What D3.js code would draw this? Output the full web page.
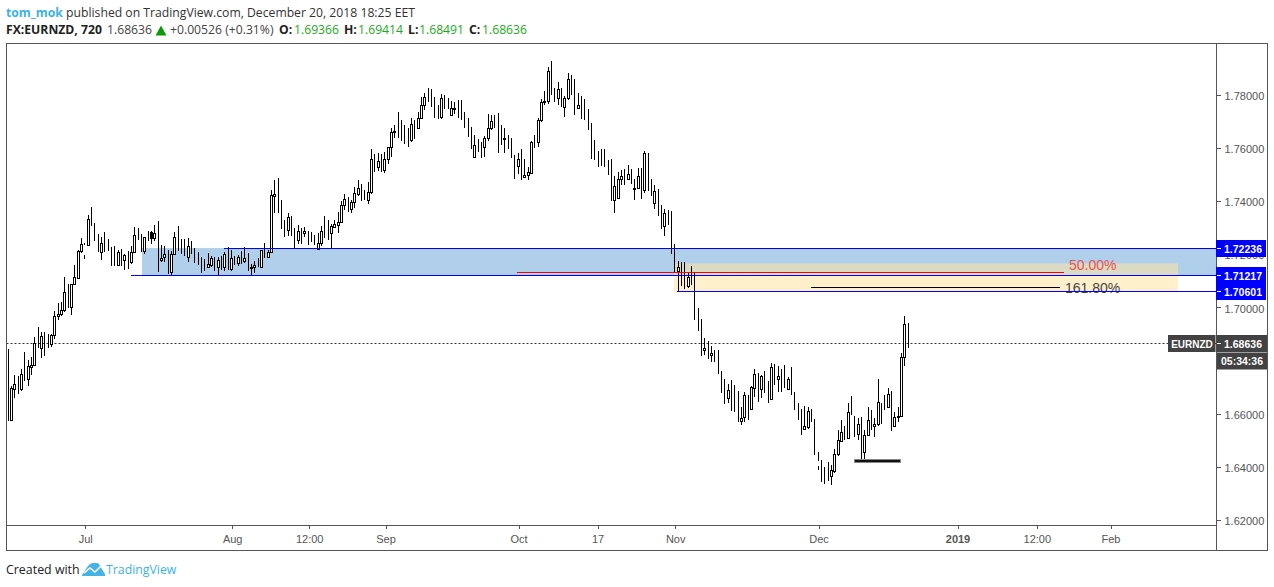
<!DOCTYPE html>
<html><head><meta charset="utf-8">
<script src="https://d3js.org/d3.v7.min.js"></script>
<style>
html,body{margin:0;padding:0;background:#fff;overflow:hidden}
text{font-family:"Liberation Sans",Arial,sans-serif}
.hd{font-family:"Open Sans",sans-serif}
</style></head><body><svg id="c" width="1274" height="587"></svg>
<script>
const highs=[1.6844,1.6704,1.6744,1.6742,1.6767,1.6831,1.6802,1.6815,1.6888,1.6925,
1.6906,1.6906,1.6900,1.6899,1.6987,1.7017,1.7021,1.7113,1.7088,1.7088,
1.7160,1.7215,1.7262,1.7241,1.7347,1.7377,1.7318,1.7277,1.7267,1.7284,
1.7257,1.7229,1.7231,1.7216,1.7220,1.7201,1.7213,1.7233,1.7303,1.7299,
1.7277,1.7267,1.7289,1.7288,1.7309,1.7326,1.7235,1.7233,1.7216,1.7213,
1.7284,1.7307,1.7258,1.7258,1.7262,1.7250,1.7225,1.7209,1.7190,1.7184,
1.7204,1.7194,1.7191,1.7191,1.7194,1.7209,1.7229,1.7216,1.7194,1.7198,
1.7214,1.7228,1.7204,1.7164,1.7175,1.7186,1.7216,1.7241,1.7216,1.7442,
1.7480,1.7487,1.7405,1.7329,1.7356,1.7343,1.7298,1.7310,1.7300,1.7303,
1.7289,1.7284,1.7273,1.7280,1.7307,1.7345,1.7330,1.7315,1.7330,1.7358,
1.7400,1.7428,1.7415,1.7405,1.7454,1.7480,1.7465,1.7443,1.7472,1.7597,
1.7578,1.7581,1.7578,1.7586,1.7605,1.7676,1.7688,1.7737,1.7704,1.7688,
1.7676,1.7714,1.7706,1.7737,1.7792,1.7809,1.7827,1.7822,1.7794,1.7763,
1.7804,1.7799,1.7787,1.7777,1.7772,1.7782,1.7782,1.7735,1.7714,1.7680,
1.7650,1.7634,1.7622,1.7645,1.7728,1.7725,1.7724,1.7733,1.7687,1.7675,
1.7650,1.7637,1.7574,1.7583,1.7597,1.7559,1.7529,1.7625,1.7650,1.7713,
1.7785,1.7815,1.7906,1.7928,1.7828,1.7848,1.7825,1.7795,1.7883,1.7876,
1.7861,1.7808,1.7797,1.7785,1.7748,1.7695,1.7631,1.7590,1.7597,1.7597,
1.7554,1.7558,1.7495,1.7509,1.7518,1.7522,1.7536,1.7522,1.7483,1.7524,
1.7524,1.7588,1.7580,1.7482,1.7461,1.7445,1.7384,1.7369,1.7367,1.7363,
1.7239,1.7174,1.7171,1.7171,1.7133,1.7156,1.7128,1.6997,1.6957,1.6885,
1.6873,1.6855,1.6838,1.6838,1.6761,1.6731,1.6712,1.6725,1.6708,1.6686,
1.6627,1.6682,1.6671,1.6706,1.6767,1.6752,1.6746,1.6761,1.6723,1.6791,
1.6787,1.6780,1.6769,1.6784,1.6737,1.6776,1.6682,1.6639,1.6618,1.6628,
1.6627,1.6619,1.6580,1.6455,1.6426,1.6401,1.6417,1.6407,1.6467,1.6539,
1.6575,1.6552,1.6642,1.6667,1.6592,1.6583,1.6587,1.6539,1.6624,1.6614,
1.6583,1.6731,1.6639,1.6671,1.6695,1.6686,1.6608,1.6627,1.6828,1.6968,1.69414];
const lows=[1.6574,1.6574,1.6660,1.6674,1.6687,1.6724,1.6706,1.6747,1.6781,1.6849,
1.6811,1.6817,1.6849,1.6852,1.6881,1.6953,1.6969,1.6984,1.6999,1.6972,
1.7085,1.7108,1.7206,1.7184,1.7233,1.7307,1.7252,1.7209,1.7179,1.7209,
1.7214,1.7156,1.7157,1.7160,1.7157,1.7141,1.7146,1.7164,1.7208,1.7254,
1.7210,1.7203,1.7250,1.7239,1.7251,1.7134,1.7172,1.7171,1.7126,1.7121,
1.7198,1.7214,1.7200,1.7193,1.7171,1.7201,1.7166,1.7160,1.7131,1.7139,
1.7152,1.7154,1.7137,1.7121,1.7141,1.7139,1.7141,1.7139,1.7160,1.7156,
1.7164,1.7169,1.7139,1.7121,1.7131,1.7154,1.7154,1.7187,1.7186,1.7204,
1.7357,1.7357,1.7297,1.7264,1.7269,1.7270,1.7223,1.7239,1.7239,1.7265,
1.7234,1.7246,1.7234,1.7219,1.7233,1.7262,1.7255,1.7223,1.7302,1.7282,
1.7317,1.7368,1.7360,1.7357,1.7375,1.7418,1.7400,1.7403,1.7388,1.7427,
1.7511,1.7512,1.7511,1.7508,1.7541,1.7568,1.7637,1.7639,1.7626,1.7616,
1.7606,1.7624,1.7636,1.7671,1.7713,1.7742,1.7772,1.7754,1.7715,1.7709,
1.7709,1.7749,1.7747,1.7723,1.7728,1.7713,1.7706,1.7675,1.7640,1.7596,
1.7562,1.7585,1.7564,1.7568,1.7628,1.7669,1.7675,1.7583,1.7612,1.7580,
1.7597,1.7564,1.7484,1.7504,1.7480,1.7489,1.7480,1.7508,1.7600,1.7605,
1.7697,1.7763,1.7767,1.7800,1.7775,1.7763,1.7756,1.7718,1.7780,1.7800,
1.7725,1.7746,1.7708,1.7705,1.7669,1.7559,1.7556,1.7529,1.7534,1.7529,
1.7497,1.7399,1.7357,1.7414,1.7462,1.7462,1.7482,1.7464,1.7403,1.7446,
1.7408,1.7432,1.7440,1.7420,1.7371,1.7344,1.7295,1.7269,1.7310,1.7201,
1.7128,1.7061,1.7081,1.7071,1.7073,1.7084,1.6951,1.6912,1.6818,1.6821,
1.6806,1.6795,1.6795,1.6750,1.6678,1.6637,1.6639,1.6611,1.6607,1.6569,
1.6557,1.6567,1.6576,1.6612,1.6664,1.6644,1.6659,1.6679,1.6639,1.6652,
1.6707,1.6682,1.6682,1.6697,1.6692,1.6669,1.6612,1.6576,1.6518,1.6539,
1.6542,1.6569,1.6445,1.6388,1.6344,1.6336,1.6348,1.6332,1.6376,1.6439,
1.6494,1.6501,1.6505,1.6595,1.6514,1.6501,1.6431,1.6420,1.6516,1.6539,
1.6514,1.6552,1.6560,1.6614,1.6621,1.6533,1.6551,1.6570,1.6589,1.6781,1.68491];
// Bars whose body is readable (1-based bar number), with open and close
const bodyBars=[2,3,5,7,8,9,11,14,15,16,17,18,20,21,22,23,24,25,29,34,36,38,39,42,44,45,47,48,50,51,55,61,62,64,66,68,70,72,74,75,77,79,80,81,85,88,90,94,95,98,99,100,101,102,104,105,106,109,110,112,114,115,116,117,122,124,125,126,131,134,135,138,141,144,145,146,150,154,156,157,158,160,161,162,163,166,168,169,172,179,183,184,185,187,189,190,192,195,198,199,202,205,210,212,217,221,222,224,225,227,230,232,235,240,241,244,248,249,250,251,253,256,258,259,261,262,265,267,268,269,270];
const bodyOpens=[1.6576,1.6694,1.6694,1.6729,1.6777,1.6782,1.6849,1.6862,1.6895,1.6967,1.6977,1.6989,1.7000,1.7087,1.7112,1.7211,1.7198,1.7234,1.7210,1.7161,1.7180,1.7172,1.7208,1.7211,1.7285,1.7263,1.7177,1.7189,1.7132,1.7200,1.7189,1.7154,1.7161,1.7154,1.7151,1.7144,1.7169,1.7176,1.7147,1.7151,1.7154,1.7189,1.7208,1.7421,1.7290,1.7253,1.7279,1.7221,1.7241,1.7281,1.7304,1.7312,1.7320,1.7384,1.7369,1.7396,1.7429,1.7404,1.7434,1.7527,1.7516,1.7558,1.7603,1.7660,1.7629,1.7674,1.7713,1.7762,1.7719,1.7723,1.7749,1.7712,1.7568,1.7603,1.7637,1.7675,1.7634,1.7531,1.7493,1.7497,1.7508,1.7622,1.7705,1.7773,1.7777,1.7790,1.7753,1.7788,1.7750,1.7558,1.7403,1.7414,1.7482,1.7485,1.7445,1.7448,1.7442,1.7394,1.7308,1.7354,1.7138,1.7079,1.6838,1.6820,1.6659,1.6574,1.6587,1.6617,1.6697,1.6692,1.6657,1.6730,1.6694,1.6544,1.6551,1.6403,1.6367,1.6386,1.6447,1.6498,1.6507,1.6525,1.6457,1.6519,1.6552,1.6560,1.6624,1.6555,1.6587,1.6590,1.6813];
const bodyCloses=[1.6696,1.6711,1.6748,1.6780,1.6782,1.6865,1.6891,1.6895,1.6967,1.6977,1.6989,1.7057,1.7087,1.7113,1.7213,1.7238,1.7236,1.7332,1.7243,1.7208,1.7196,1.7208,1.7272,1.7264,1.7263,1.7279,1.7187,1.7200,1.7201,1.7264,1.7230,1.7164,1.7185,1.7179,1.7201,1.7185,1.7189,1.7185,1.7151,1.7159,1.7215,1.7208,1.7422,1.7426,1.7339,1.7287,1.7287,1.7241,1.7288,1.7306,1.7313,1.7321,1.7385,1.7408,1.7396,1.7430,1.7449,1.7434,1.7558,1.7551,1.7558,1.7603,1.7660,1.7664,1.7690,1.7713,1.7762,1.7792,1.7789,1.7750,1.7750,1.7713,1.7611,1.7637,1.7675,1.7701,1.7637,1.7558,1.7498,1.7509,1.7622,1.7705,1.7773,1.7778,1.7890,1.7822,1.7788,1.7859,1.7761,1.7559,1.7457,1.7483,1.7494,1.7502,1.7449,1.7494,1.7580,1.7437,1.7354,1.7357,1.7151,1.7115,1.6846,1.6828,1.6688,1.6585,1.6670,1.6699,1.6748,1.6742,1.6775,1.6740,1.6730,1.6553,1.6609,1.6420,1.6387,1.6447,1.6500,1.6530,1.6607,1.6560,1.6519,1.6575,1.6560,1.6643,1.6673,1.6587,1.6590,1.6813,1.6937];
const filledBars=[44];
const gapBars=[24,244];
const priceTicks=[1.62,1.64,1.66,1.68,1.70,1.72,1.74,1.76,1.78];
const timeLabels=["Jul","Aug","12:00","Sep","Oct","17","Nov","Dec","2019","12:00","Feb"];
const timeBars=[23,67.1,90.2,113.1,153,176.7,200,243,284.7,308.5,330.6];
const boldTimeLabels=["2019"];
const supplyTop=1.72236, supplyBottom=1.71217, fibLow=1.70601, lastPrice=1.68636;
const fib50=1.7133, fib161=1.7074, fibZoneTop=1.7166, swingLow=1.6422;
const priceLabels=[1.72236,1.71217,1.70601];

const svg=d3.select("#c");
const ink="#555";
const L=6.5,R=1216.5,T=43.5,B=525.5,RR=1267.5,BB=550.5;
const y=d3.scaleLinear().domain([1.62,1.78]).range([519.9,95]);
const x=d3.scaleLinear().domain([0,3]).range([8,18]);
const px=i=>Math.floor(x(i))+0.5;
const py=v=>Math.round(y(v))+0.5;
const ly=v=>Math.floor(y(v))+0.5;

// zones
svg.append("rect").attr("x",142).attr("width",R-142).attr("y",y(supplyTop)).attr("height",y(supplyBottom)-y(supplyTop)).attr("fill","#b0cfeb");
svg.append("rect").attr("x",674).attr("width",504).attr("y",y(fibZoneTop)).attr("height",y(fibLow)-y(fibZoneTop)).attr("fill","rgba(255,227,159,.54)");

// last price line
svg.append("line").attr("x1",L).attr("x2",R).attr("y1",ly(lastPrice)).attr("y2",ly(lastPrice)).attr("stroke","#333").attr("stroke-dasharray","2,2");

// candles
const bars=highs.map((h,i)=>({i,h,l:lows[i]}));
bodyBars.forEach((n,k)=>{bars[n-1].o=bodyOpens[k];bars[n-1].c=bodyCloses[k];});
const g=svg.append("g").attr("shape-rendering","crispEdges");
g.selectAll(".w").data(bars).join("line").attr("class","w")
 .attr("x1",d=>px(d.i)).attr("x2",d=>px(d.i)).attr("y1",d=>Math.round(y(d.h))).attr("y2",d=>Math.round(y(d.l)))
 .attr("stroke","#000");
const bodied=bars.filter(d=>d.o!==undefined);
const plain=bodied.filter(d=>!gapBars.includes(d.i+1));
g.selectAll(".b").data(plain).join("rect").attr("class","b")
 .attr("x",d=>px(d.i)-1).attr("width",2)
 .attr("y",d=>py(Math.max(d.o,d.c))).attr("height",d=>py(Math.min(d.o,d.c))-py(Math.max(d.o,d.c)))
 .attr("fill",d=>filledBars.includes(d.i+1)?"#000":"#fff").attr("stroke","#000");
g.selectAll(".gap").data(bodied.filter(d=>gapBars.includes(d.i+1))).join("line").attr("class","gap")
 .attr("x1",d=>px(d.i)).attr("x2",d=>px(d.i)).attr("y1",d=>y(d.c)).attr("y2",d=>y(d.o)).attr("stroke","#fff");

// drawing labels (below the lines)
svg.append("text").attr("x",1069).attr("y",y(fib50)-2).attr("font-size",14).attr("fill","#ef5350").text("50.00%");
svg.append("text").attr("x",1065).attr("y",y(fib161)+5).attr("font-size",14).attr("fill","#444").text("161.80%");

// horizontal drawings
const hline=(a,b,v,c,w=1)=>svg.append("line").attr("x1",a).attr("x2",b).attr("y1",ly(v)).attr("y2",ly(v)).attr("stroke",c).attr("stroke-width",w).attr("shape-rendering","crispEdges");
hline(224,R,supplyTop,"#0000ff");
hline(131,R,supplyBottom,"#0000ff");
hline(677,R,fibLow,"#0000ff");
hline(517,1064,fib50,"#ff0000",1.4);
hline(811,1060,fib161,"#000");
hline(854,901,swingLow,"#888",4);
hline(855,900,swingLow,"#111",2);

// frame
svg.append("rect").attr("x",L).attr("y",T).attr("width",RR-L).attr("height",BB-T).attr("fill","none").attr("stroke",ink).attr("stroke-width",1);

// axes
const yAxis=d3.axisRight(y).tickValues(priceTicks).tickFormat(d3.format(".5f")).tickSize(4).tickPadding(4);
const ga=svg.append("g").attr("transform",`translate(${R},0)`).call(yAxis);
ga.select(".domain").attr("stroke",ink).attr("d",`M0,${T}V${BB}`);
ga.selectAll(".tick line").attr("stroke",ink).attr("shape-rendering","crispEdges");
ga.selectAll("text").attr("font-size",11).attr("fill",ink).attr("dy","0.42em").style("font-family","'Liberation Sans'");

const tScale=d3.scaleLinear().domain([0,3]).range([8.5,18.5]);
const xAxis=d3.axisBottom(tScale).tickValues(timeBars).tickFormat((d,i)=>timeLabels[i]).tickSize(3).tickPadding(7);
const gb=svg.append("g").attr("transform",`translate(0,${B})`).call(xAxis);
gb.select(".domain").attr("stroke",ink).attr("d",`M${L},0H${R}`);
gb.selectAll(".tick line").attr("stroke",ink).attr("shape-rendering","crispEdges");
gb.selectAll("text").attr("font-size",11).attr("fill",ink).style("font-family","'Liberation Sans'")
  .attr("font-weight",(d,i)=>boldTimeLabels.includes(timeLabels[i])?"bold":"normal");

// price labels
const tag=(xa,w,cy,txt,fill,tx,fs=10.5)=>{
 svg.append("rect").attr("x",xa).attr("y",cy-8.5).attr("width",w).attr("height",17).attr("fill",fill);
 svg.append("text").attr("x",tx).attr("y",cy+4).attr("text-anchor","middle").attr("font-size",fs).attr("font-weight","bold").attr("fill","#fff").text(txt);
};
priceLabels.forEach(p=>{
 tag(1216,50,ly(p),d3.format(".5f")(p),"#0000ff",1243);
 svg.append("line").attr("x1",R).attr("x2",R+4).attr("y1",ly(p)).attr("y2",ly(p)).attr("stroke","#fff").attr("shape-rendering","crispEdges");
});
tag(1168,47.5,ly(lastPrice),"EURNZD","#424242",1192,10);
tag(1216.5,50.5,ly(lastPrice),d3.format(".5f")(lastPrice),"#424242",1243);
svg.append("line").attr("x1",R).attr("x2",R+4).attr("y1",ly(lastPrice)).attr("y2",ly(lastPrice)).attr("stroke","#fff").attr("shape-rendering","crispEdges");
tag(1217,50,361,"05:34:36","#424242",1242);

// header
const hdSize=12.2;
const h1=svg.append("text").attr("class","hd").attr("x",6).attr("y",17).attr("font-size",hdSize).attr("fill","#333");
h1.append("tspan").attr("fill","#3bb3e4").attr("font-weight","bold").text("tom_mok");
h1.append("tspan").text(" published on TradingView.com, December 20, 2018 18:25 EET");
const seg=(tx,txt,col,bold)=>svg.append("text").attr("class","hd").attr("x",tx).attr("y",34).attr("font-size",hdSize).attr("fill",col).attr("font-weight",bold?"bold":"normal").text(txt);
seg(6,"FX:EURNZD, 720","#222",true);
seg(107,"1.68636","#444");
svg.append("path").attr("d","M155.5,35.5L161,25.5L166.5,35.5Z").attr("fill","#0a9a0a");
seg(170,"+0.00526 (+0.31%)","#444");
[["O:","1.69366",279,294],["H:","1.69414",344,358],["L:","1.68491",408,419],["C:","1.68636",469,482]].forEach(([a,b,xa,xb])=>{
 seg(xa,a,"#222",true); seg(xb,b,"#22ab22");
});

// footer
svg.append("text").attr("class","hd").attr("x",6).attr("y",574).attr("font-size",12.4).attr("fill","#222").text("Created with");
svg.append("path").attr("d","M82,575 L88,566 Q90,563 93,563 L97,563 Q99,563 100,566 L105,574 Q106,576 104,576 L84,576 Q81,576 82,575Z").attr("fill","#45b4e4");
svg.append("path").attr("d","M84,573 L90,568 L95,572 L102,565").attr("fill","none").attr("stroke","#fff").attr("stroke-width",1.5);
svg.append("text").attr("class","hd").attr("x",106).attr("y",574).attr("font-size",12.3).attr("fill","#3bb3e4").text("TradingView");
</script></body></html>
